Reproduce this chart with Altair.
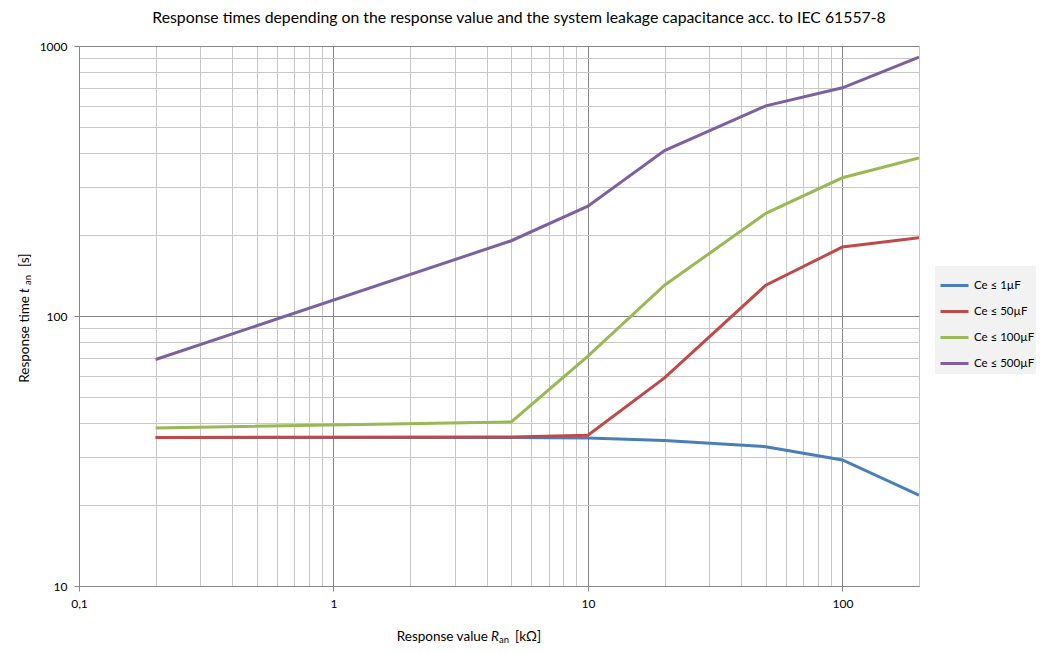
import altair as alt
import pandas as pd

# ---- data ----
R_values = [0.2, 5, 10, 20, 50, 100, 200]
series_names = ["Ce ≤ 1µF", "Ce ≤ 50µF", "Ce ≤ 100µF", "Ce ≤ 500µF"]
t_1uF = [35.5, 35.5, 35.3, 34.6, 32.8, 29.3, 21.7]
t_50uF = [35.5, 35.6, 36.2, 59, 130, 180, 195]
t_100uF = [38.5, 40.5, 71, 130, 240, 325, 385]
t_500uF = [69, 190, 255, 410, 600, 700, 910]
series_colors = ["#4a7ebb", "#be4b48", "#98b954", "#7d60a0"]

x_tick_values = [0.1, 0.2, 0.3, 0.4, 0.5, 0.6, 0.7, 0.8, 0.9,
                 1, 2, 3, 4, 5, 6, 7, 8, 9,
                 10, 20, 30, 40, 50, 60, 70, 80, 90,
                 100, 200]
y_tick_values = [10, 20, 30, 40, 50, 60, 70, 80, 90,
                 100, 200, 300, 400, 500, 600, 700, 800, 900, 1000]

title_text = "Response times depending on the response value and the system leakage capacitance acc. to IEC 61557-8"

FONT = "Lato"
MAJOR = "#868686"
MINOR = "#c8c8c8"

rows = []
for name, vals in zip(series_names, [t_1uF, t_50uF, t_100uF, t_500uF]):
    for r, t in zip(R_values, vals):
        rows.append({"series": name, "R": r, "t": t})
df = pd.DataFrame(rows)

x_major_test = "datum.value == 0.1 || datum.value == 1 || datum.value == 10 || datum.value == 100"
y_major_test = "datum.value == 10 || datum.value == 100 || datum.value == 1000"

lines = alt.Chart(df).mark_line(strokeWidth=3, clip=True).encode(
    x=alt.X("R:Q",
            scale=alt.Scale(type="log", domain=[0.1, 200], nice=False),
            axis=alt.Axis(values=x_tick_values, title=None,
                          labelExpr="datum.value == 0.1 ? '0,1' : ((" + x_major_test + ") ? datum.value + '' : '')",
                          gridColor={"condition": {"test": x_major_test, "value": MAJOR}, "value": MINOR},
                          tickColor={"condition": {"test": x_major_test, "value": MAJOR}, "value": "transparent"},
                          tickSize=5, labelPadding=7, labelFlush=False, labelOverlap=False)),
    y=alt.Y("t:Q",
            scale=alt.Scale(type="log", domain=[10, 1000], nice=False),
            axis=alt.Axis(values=y_tick_values, title=None,
                          labelExpr="(" + y_major_test + ") ? datum.value + '' : ''",
                          gridColor={"condition": {"test": y_major_test, "value": MAJOR}, "value": MINOR},
                          tickColor={"condition": {"test": y_major_test, "value": MAJOR}, "value": "transparent"},
                          tickSize=5, labelPadding=7, labelOverlap=False)),
    color=alt.Color("series:N",
                    scale=alt.Scale(domain=series_names, range=series_colors),
                    legend=alt.Legend(title=None, orient="none", legendX=856, legendY=220,
                                      symbolType="stroke", symbolSize=784, symbolStrokeWidth=3,
                                      fillColor="#f2f2f2", padding=4, rowPadding=4,
                                      labelFontSize=11.5, labelFont=FONT, labelColor="#000000",
                                      labelOffset=4)),
)

anno = pd.DataFrame({"k": [0]})


def txt(text, x, y, size=13.5, angle=0, italic=False, align="left"):
    kw = dict(font=FONT, fontSize=size, color="#000000", align=align, baseline="middle")
    if angle:
        kw["angle"] = angle
    if italic:
        kw["fontStyle"] = "italic"
    return alt.Chart(anno).mark_text(**kw).encode(
        x=alt.value(x), y=alt.value(y), text=alt.value(text))


title = txt(title_text, 440, -28, size=15.8, align="center")

XT_Y = 591
xt1 = txt("Response value", 409, XT_Y, align="right")
xt2 = txt("R", 412, XT_Y, italic=True)
xt3 = txt("an", 420, XT_Y + 3, size=9.5)
xt4 = txt("[kΩ]", 436, XT_Y)

yt1 = txt("Response time", -54, 250, angle=270, align="right")
yt2 = txt("t", -54, 247, angle=270, italic=True)
yt3 = txt("an", -51, 239, size=9.5, angle=270)
yt4 = txt("[s]", -54, 221, angle=270)

chart = alt.layer(lines, title, xt1, xt2, xt3, xt4, yt1, yt2, yt3, yt4).properties(
    width=840, height=540,
    autosize=alt.AutoSizeParams(type="none"),
    padding={"left": 71, "top": 38, "right": 117, "bottom": 58},
).configure_view(stroke="transparent").configure_axis(
    domainColor=MAJOR, labelFont=FONT, labelFontSize=12, labelColor="#000000",
    gridWidth=1, domainWidth=1,
)

chart.save("out.html", embed_options={"renderer": "svg", "actions": False})
